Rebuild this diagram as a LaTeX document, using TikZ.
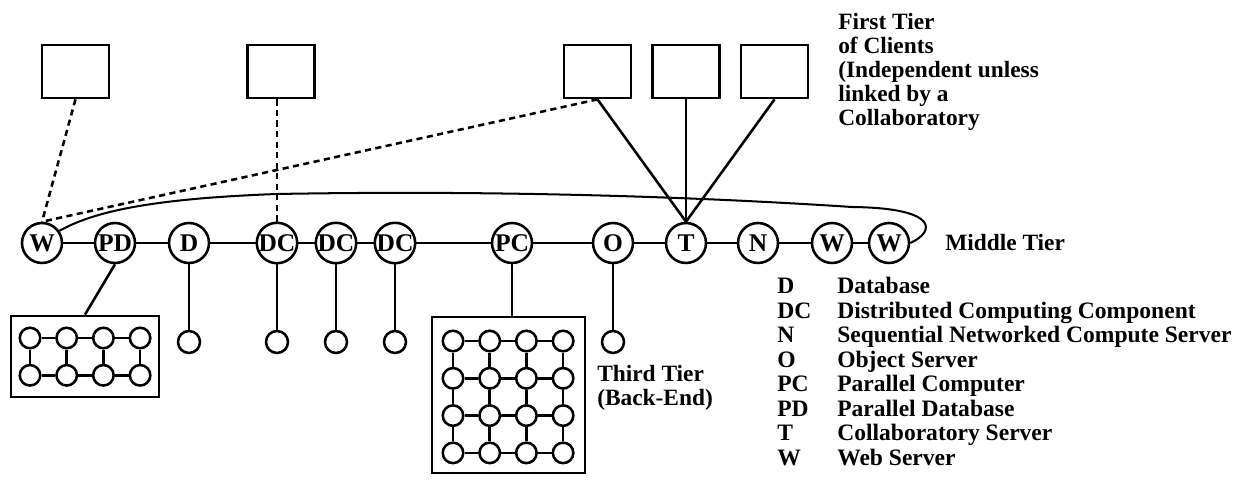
\documentclass[tikz,border=0pt]{standalone}
\usepackage{fontspec}
\setmainfont{Liberation Serif}
\usepackage{tikz}
\newcommand{\drawMesh}[5]{% name, first cell x,y, columns, rows
  \foreach \i in {1,...,#4} \foreach \j in {1,...,#5}
    \node[cell] (#1-\i-\j) at ({#2+(\i-1)*36.7},{#3+(\j-1)*37.3}) {};
  \foreach \i in {2,...,#4} \foreach \j in {1,...,#5}
    {\pgfmathtruncatemacro\p{\i-1}\draw (#1-\p-\j) -- (#1-\i-\j);}
  \foreach \i in {1,...,#4} \foreach \j in {2,...,#5}
    {\pgfmathtruncatemacro\p{\j-1}\draw (#1-\i-\p) -- (#1-\i-\j);}
}
\tikzset{
  srv/.style={circle,draw,minimum size=0.8cm,inner sep=0pt,font=\fontsize{14.5}{15}\bfseries\selectfont},
  leaf/.style={circle,draw,minimum size=0.44cm,inner sep=0pt},
  cell/.style={circle,draw,minimum size=0.41cm,inner sep=0pt},
  client/.style={draw,minimum width=1.34cm,minimum height=1.06cm,inner sep=0pt,line width=1.6pt},
  mesh/.style={draw,inner sep=0pt,line width=1.6pt},
  link/.style={dash pattern=on 3.5pt off 2.5pt},
  lbl/.style={inner sep=0pt,align=left,font=\fontsize{13.3}{13.6}\bfseries\selectfont},
  legend/.style={inner sep=0pt,anchor=west,text height=1.6ex,text depth=.4ex,font=\fontsize{13.4}{15}\bfseries\selectfont}
}

\begin{document}
\begin{tikzpicture}[x=0.02cm,y=-0.02cm,line width=1.45pt]
\useasboundingbox (0,0) rectangle (1244,502);

% Middle tier
\node[srv] (w1) at (42,243) {W};
\node[srv] (pd) at (115,243) {PD};
\node[srv] (d) at (189,243) {D};
\node[srv] (dc1) at (277,243) {DC};
\node[srv] (dc2) at (336,243) {DC};
\node[srv] (dc3) at (395,243) {DC};
\node[srv] (pc) at (512,243) {PC};
\node[srv] (o) at (613,243) {O};
\node[srv] (t) at (686,243) {T};
\node[srv] (n) at (758,243) {N};
\node[srv] (w2) at (832,243) {W};
\node[srv] (w3) at (889,243) {W};
\draw (w1) -- (pd) -- (d) -- (dc1) -- (dc2) -- (dc3) -- (pc) -- (o) -- (t) -- (n) -- (w2) -- (w3);
\node[lbl,anchor=west] (middle) at (944,243) {Middle Tier};

% Loop from first to last web server
\draw[line width=1.15pt] (w1.35) .. controls (90,214) and (140,199) .. (277,194)
  .. controls (500,190) and (700,197) .. (852,207)
  .. controls (940,208) and (935,232) .. (w3.east);

% Back-end leaves
\node[leaf] (d-l) at (189,342) {};
\node[leaf] (dc1-l) at (277,342) {};
\node[leaf] (dc2-l) at (336,342) {};
\node[leaf] (dc3-l) at (395,342) {};
\node[leaf] (o-l) at (613,342) {};
\draw (d) -- (d-l);
\draw (dc1) -- (dc1-l);
\draw (dc2) -- (dc2-l);
\draw (dc3) -- (dc3-l);
\draw (o) -- (o-l);

% Parallel database
\node[mesh,minimum width=2.96cm,minimum height=1.62cm] (pdbox) at (85,356.5) {};
\drawMesh{pdm}{30}{338}{4}{2}
\draw (pd.south) -- (pdbox.north);

% Parallel computer
\node[mesh,minimum width=3.06cm,minimum height=3.12cm] (pcbox) at (508.5,395) {};
\drawMesh{pcm}{453}{341}{4}{4}
\draw (pc.south) -- (pc.south |- pcbox.north);
\node[lbl,anchor=north west] (third) at (596,364) {Third Tier\\(Back-End)};

% First tier clients
\node[client] (cl1) at (75.5,71.5) {};
\node[client] (cl2) at (281,71.5) {};
\node[client] (cl3) at (597.5,71.5) {};
\node[client] (cl4) at (686,71.5) {};
\node[client] (cl5) at (774.5,71.5) {};
\draw[link] (cl1.south) -- (w1.north);
\draw[link] (dc1.north |- cl2.south) -- (dc1.north);
\draw[link] (cl3.south) -- (w1.north);
\draw (cl3.south) -- (t.north);
\draw (cl4.south) -- (t.north);
\draw (cl5.south) -- (t.north);
\node[lbl,anchor=north west] (first) at (837,12) {First Tier\\of Clients\\(Independent unless\\linked by a\\Collaboratory};

% Legend
\foreach \ab/\txt [count=\k] in {D/Database,DC/Distributed Computing Component,
    N/Sequential Networked Compute Server,O/Object Server,PC/Parallel Computer,
    PD/Parallel Database,T/Collaboratory Server,W/Web Server}
{
  \node[legend] (key\k) at (776,{289+24.5*(\k-1)}) {\ab};
  \node[legend] (txt\k) at (836,{289+24.5*(\k-1)}) {\txt};
}
\end{tikzpicture}
\end{document}
